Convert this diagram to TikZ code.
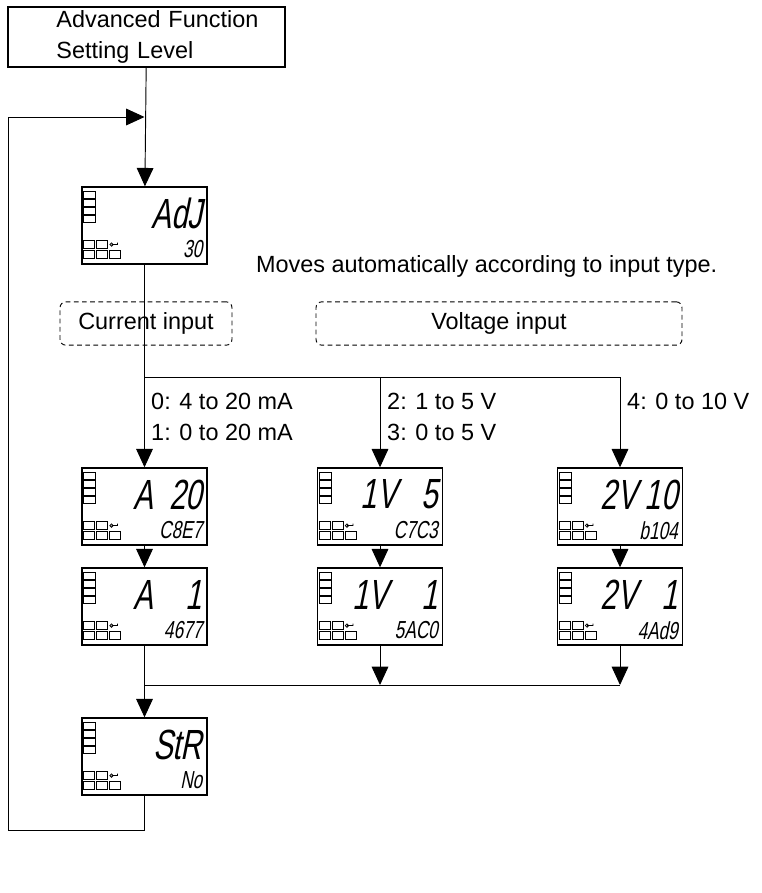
\documentclass[tikz,border=0pt]{standalone}
\usepackage{fontspec}
\setmainfont{Liberation Sans}
\newfontfamily\lcdfont[FakeSlant=0.2,FakeStretch=0.7]{Liberation Sans}
\usepackage{tikz}
\usetikzlibrary{calc,arrows.meta}

\tikzset{
  line/.style={thick},
  flow/.style={thick, -{Triangle[length=0.55cm,width=0.5cm]}},
  lcd/.style={draw, very thick, minimum width=3.75cm, minimum height=2.31cm, inner sep=0pt},
  tag/.style={draw, thick, dash pattern=on 4pt off 3pt, rounded corners=5pt, minimum height=1.3cm, inner sep=0pt},
  txt/.style={font=\fontsize{20}{26}\selectfont}
}

% display: name, x, y, main text, sub text
\newcommand\lcdbox[5]{
  \node[lcd] (#1) at (#2,#3) {};
  \foreach \k in {0,...,3}
    \draw ($(#1.center)+(-61,-34+8*\k)$) rectangle ++(12,7);
  \foreach \i in {0,1}
    \draw ($(#1.center)+(-61+13*\i,15)$) rectangle ++(11,8);
  \foreach \i in {0,1,2}
    \draw ($(#1.center)+(-61+13*\i,25)$) rectangle ++(11,8);
  \draw[line width=0.7pt] ($(#1.center)+(-33,19)$) circle (0.05cm) -- ++(6,0) -- ++(0,-2);
  \node[anchor=east, inner sep=0pt, font=\lcdfont\fontsize{36}{36}\selectfont] at ($(#1.center)+(58,-12)$) {#4};
  \node[anchor=east, inner sep=0pt, font=\lcdfont\fontsize{21}{21}\selectfont] at ($(#1.center)+(58,24)$) {#5};
}

\begin{document}
\begin{tikzpicture}[x=0.03cm, y=-0.03cm]

  \useasboundingbox (0,0) rectangle (762,893);

  \node[draw, very thick, minimum width=8.31cm, minimum height=1.8cm, inner sep=0pt, txt, align=left, text width=7.2cm] (adv) at (146.5,37) {\hyphenpenalty=10000\hspace*{0.9cm}Advanced Function\\\hspace*{0.9cm}Setting Level};

  \lcdbox{adj}{144.5}{225.5}{AdJ}{30}
  \lcdbox{a20}{144.5}{506.5}{A\ \ 20}{C8E7}
  \lcdbox{v5}{380}{506.5}{1V\ \ \ 5}{C7C3}
  \lcdbox{v10}{620}{506.5}{2V\ 10}{b104}
  \lcdbox{a1}{144.5}{606.5}{A\ \ \ \ 1}{4677}
  \lcdbox{v1}{380}{606.5}{1V\ \ \ \ 1}{5AC0}
  \lcdbox{v1b}{620}{606.5}{2V\ \ \ 1}{4Ad9}
  \lcdbox{str}{144.5}{756.5}{StR}{No}

  \node[txt, anchor=west] (moves) at (252,266) {Moves automatically according to input type.};

  \node[tag, minimum width=5.16cm, txt] (cur) at (146,323.5) {Current input};
  \node[tag, minimum width=10.98cm, txt] (vol) at (499,323.5) {Voltage input};

  % branch line
  \coordinate (split) at (144.5,377);
  \coordinate (midtop) at (380,377);
  \coordinate (righttop) at (620,377);
  \coordinate (merge) at (144.5,685);
  \coordinate (midbot) at (380,685);
  \coordinate (rightbot) at (620,685);

  \draw[flow] (adv) -- (adj);
  \draw[line] (adj) -- (split);
  \draw[line] (split) -- (righttop);
  \draw[flow] (split) -- (a20);
  \draw[flow] (midtop) -- (v5);
  \draw[flow] (righttop) -- (v10);
  \draw[flow] (a20) -- (a1);
  \draw[flow] (v5) -- (v1);
  \draw[flow] (v10) -- (v1b);
  \draw[flow] (v1) -- (midbot);
  \draw[flow] (v1b) -- (rightbot);
  \draw[line] (merge) -- (rightbot);
  \draw[flow] (a1) -- (str);

  % return loop
  \coordinate (back) at (144.5,117);
  \draw[flow] (str.south) -- ++(0,35) -| (8,117) -- (back);

  \node[txt, anchor=north west, align=left, inner sep=0pt] (cl) at (151,393) {0: 4 to 20 mA\\1: 0 to 20 mA};
  \node[txt, anchor=north west, align=left, inner sep=0pt] (vl) at (387,393) {2: 1 to 5 V\\3: 0 to 5 V};
  \node[txt, anchor=north west, align=left, inner sep=0pt] (hl) at (627,393) {4: 0 to 10 V};

\end{tikzpicture}
\end{document}
